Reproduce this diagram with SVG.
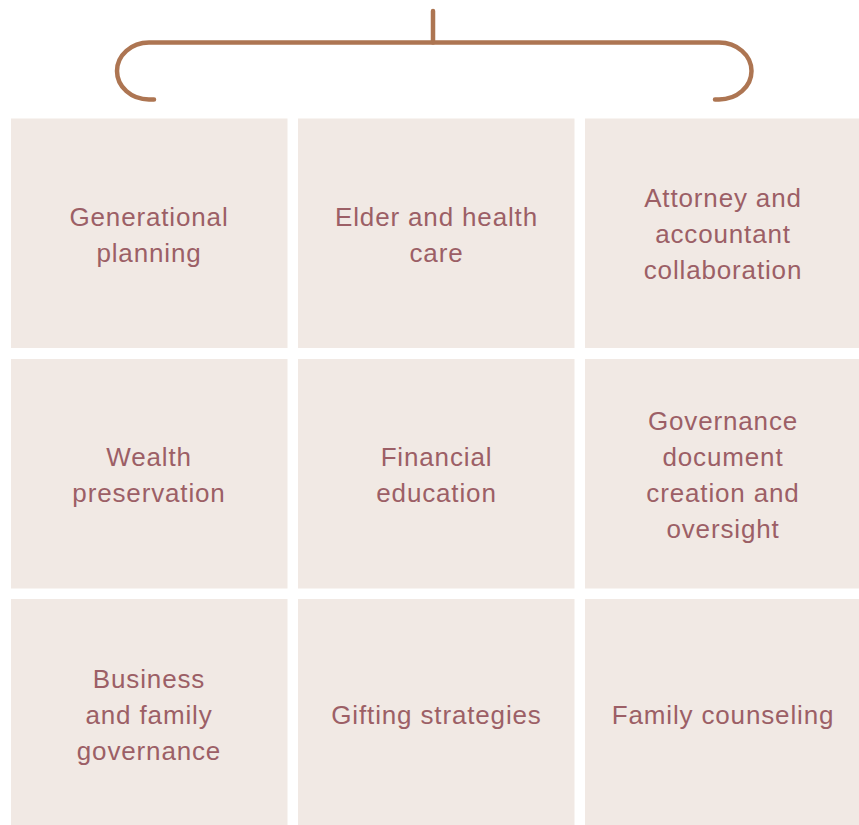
<svg xmlns="http://www.w3.org/2000/svg" width="859" height="825" viewBox="0 0 859 825">
  <style>
    .cell { fill: #f1e9e4; }
    .label { font-family: "Liberation Sans", Arial, sans-serif; font-size: 26px; letter-spacing: 0.85px; fill: #9c5f66; text-anchor: middle; }
    .brace { fill: none; stroke: #ad7552; stroke-width: 4.5; stroke-linecap: round; stroke-linejoin: round; }
  </style>
  <rect width="859" height="825" fill="#ffffff"/>

  <!-- bracket spanning the grid -->
  <g id="connectors">
    <line class="brace" x1="433" y1="11" x2="433" y2="42.5"/>
    <path class="brace" d="M 154 99.5 L 149 99.5 A 32 28.5 0 0 1 117 71 A 32 28.5 0 0 1 149 42.5 L 719 42.5 A 32.5 28.5 0 0 1 751.5 71 A 32.5 28.5 0 0 1 719 99.5 L 715 99.5"/>
  </g>

  <!-- row 1 -->
  <g id="generational-planning">
    <rect class="cell" x="11" y="118.5" width="276.5" height="229.5"/>
    <text class="label" x="149" y="226">Generational</text>
    <text class="label" x="149" y="262">planning</text>
  </g>
  <g id="elder-health-care">
    <rect class="cell" x="298" y="118.5" width="276.5" height="229.5"/>
    <text class="label" x="436.5" y="226">Elder and health</text>
    <text class="label" x="436.5" y="262">care</text>
  </g>
  <g id="attorney-accountant">
    <rect class="cell" x="585" y="118.5" width="276.5" height="229.5"/>
    <text class="label" x="723" y="207">Attorney and</text>
    <text class="label" x="723" y="243">accountant</text>
    <text class="label" x="723" y="279">collaboration</text>
  </g>

  <!-- row 2 -->
  <g id="wealth-preservation">
    <rect class="cell" x="11" y="359" width="276.5" height="229.5"/>
    <text class="label" x="149" y="466">Wealth</text>
    <text class="label" x="149" y="502">preservation</text>
  </g>
  <g id="financial-education">
    <rect class="cell" x="298" y="359" width="276.5" height="229.5"/>
    <text class="label" x="436.5" y="466">Financial</text>
    <text class="label" x="436.5" y="502">education</text>
  </g>
  <g id="governance-documents">
    <rect class="cell" x="585" y="359" width="276.5" height="229.5"/>
    <text class="label" x="723" y="430">Governance</text>
    <text class="label" x="723" y="466">document</text>
    <text class="label" x="723" y="502">creation and</text>
    <text class="label" x="723" y="538">oversight</text>
  </g>

  <!-- row 3 -->
  <g id="business-family-governance">
    <rect class="cell" x="11" y="599" width="276.5" height="230"/>
    <text class="label" x="149" y="688">Business</text>
    <text class="label" x="149" y="724">and family</text>
    <text class="label" x="149" y="760">governance</text>
  </g>
  <g id="gifting-strategies">
    <rect class="cell" x="298" y="599" width="276.5" height="230"/>
    <text class="label" x="436.5" y="724">Gifting strategies</text>
  </g>
  <g id="family-counseling">
    <rect class="cell" x="585" y="599" width="276.5" height="230"/>
    <text class="label" x="723" y="724">Family counseling</text>
  </g>
</svg>
